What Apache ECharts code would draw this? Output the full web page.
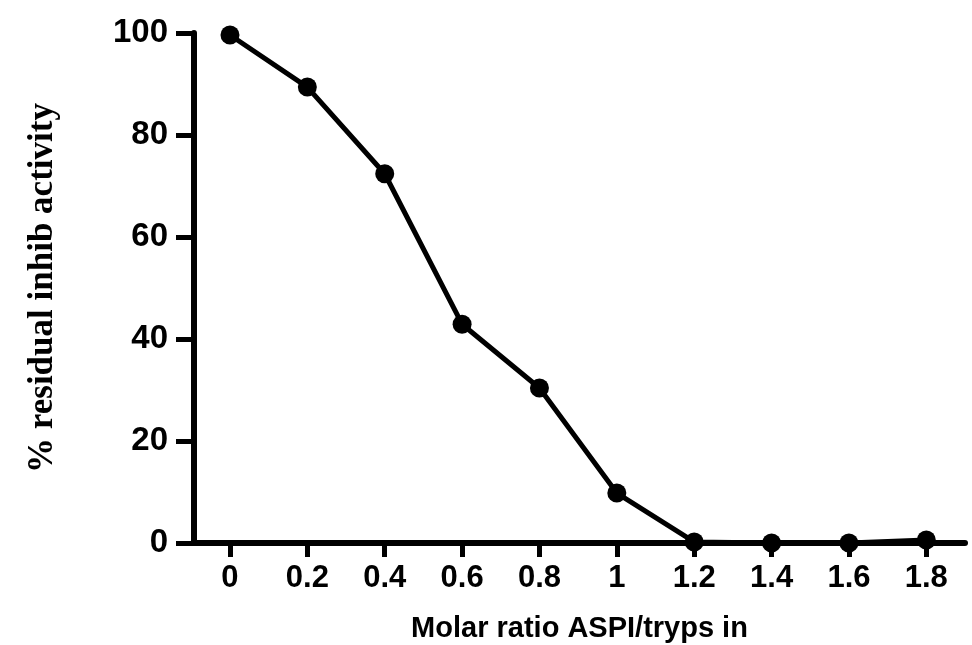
<!DOCTYPE html>
<html>
<head>
<meta charset="utf-8">
<script src="https://cdn.jsdelivr.net/npm/echarts@6/dist/echarts.min.js"></script>
<style>
html,body{margin:0;padding:0;background:#fff;}
#chart{width:972px;height:645px;}
</style>
</head>
<body>
<div id="chart"></div>
<script>
const xValues = [0, 0.2, 0.4, 0.6, 0.8, 1.0, 1.2, 1.4, 1.6, 1.8];
const yValues = [99.6, 89.4, 72.4, 42.9, 30.4, 9.8, 0.2, 0, 0, 0.6];
const xTickValues = [0, 0.2, 0.4, 0.6, 0.8, 1.0, 1.2, 1.4, 1.6, 1.8];
const xTickLabels = ['0', '0.2', '0.4', '0.6', '0.8', '1', '1.2', '1.4', '1.6', '1.8'];
const yTickLabels = ['0', '20', '40', '60', '80', '100'];
const xTitle = 'Molar ratio ASPI/tryps in';
const yTitle = '% residual inhib activity';

const chart = echarts.init(document.getElementById('chart'));
const option = {
  animation: false,
  backgroundColor: '#fff',
  grid: { left: 194, right: 7, top: 33, bottom: 102, containLabel: false, outerBoundsMode: 'none' },
  xAxis: {
    type: 'value',
    min: -0.093,
    max: 1.9,
    name: xTitle,
    nameLocation: 'middle',
    nameGap: 71,
    nameTextStyle: { fontFamily: 'Liberation Sans', fontWeight: 'bold', fontSize: 29, color: '#000', verticalAlign: 'top' },
    axisLine: { show: true, onZero: false, lineStyle: { color: '#000', width: 6 } },
    axisTick: { show: true, customValues: xTickValues, length: 14, lineStyle: { color: '#000', width: 5 } },
    axisLabel: {
      customValues: xTickValues,
      margin: 20,
      fontFamily: 'Liberation Sans', fontWeight: 'bold', fontSize: 31, color: '#000',
      formatter: function (v) {
        for (let i = 0; i < xTickValues.length; i++) {
          if (Math.abs(xTickValues[i] - v) < 1e-6) return xTickLabels[i];
        }
        return '';
      }
    },
    splitLine: { show: false }
  },
  yAxis: {
    type: 'value',
    min: 0,
    max: 100,
    interval: 20,
    name: yTitle,
    nameLocation: 'middle',
    nameGap: 134,
    nameRotate: 90,
    nameTextStyle: { fontFamily: 'Liberation Serif', fontWeight: 'bold', fontSize: 35, color: '#000' },
    axisLine: { show: true, onZero: false, lineStyle: { color: '#000', width: 6 } },
    axisTick: { show: true, length: 18, lineStyle: { color: '#000', width: 5 } },
    axisLabel: {
      margin: 26,
      fontFamily: 'Liberation Sans', fontWeight: 'bold', fontSize: 33, color: '#000',
      formatter: function (v) { return yTickLabels[Math.round(v / 20)]; }
    },
    splitLine: { show: false }
  },
  series: [{
    type: 'line',
    data: xValues.map((x, i) => [x, yValues[i]]),
    symbol: 'circle',
    symbolSize: 19,
    lineStyle: { color: '#000', width: 5 },
    itemStyle: { color: '#000' },
    clip: false,
    z: 3
  }]
};
chart.setOption(option);
</script>
</body>
</html>
